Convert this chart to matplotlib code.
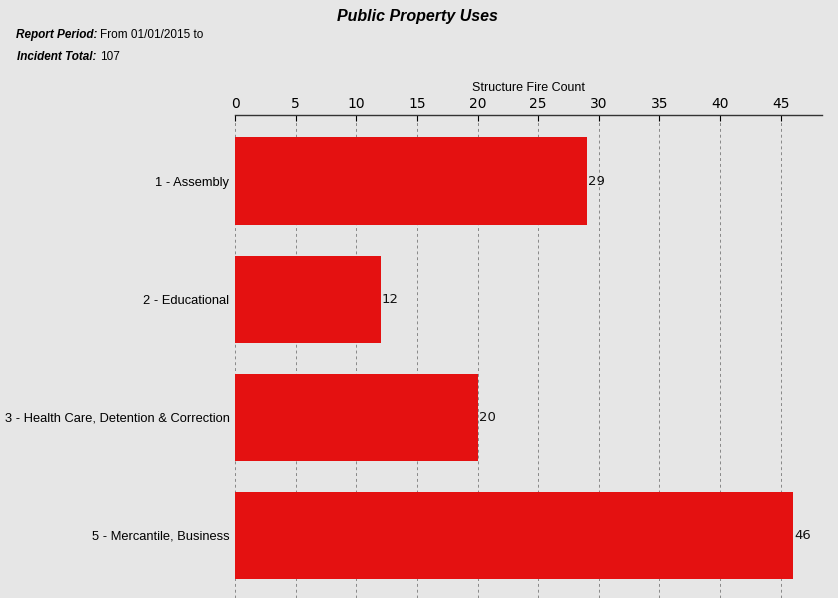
import matplotlib.pyplot as plt

categories = ['1 - Assembly', '2 - Educational',
              '3 - Health Care, Detention & Correction', '5 - Mercantile, Business']
counts = [29, 12, 20, 46]
ticks = [0, 5, 10, 15, 20, 25, 30, 35, 40, 45]

bg = '#e6e6e6'
fig = plt.figure(figsize=(8.38, 5.98), dpi=100, facecolor=bg)
ax = fig.add_axes([235 / 838, 0, 587 / 838, 483 / 598], facecolor=bg)

y = list(range(len(categories)))
ax.barh(y, counts, height=0.74, color='#e41111', zorder=3)
for yi, c in zip(y, counts):
    ax.text(c + 0.1, yi, str(c), va='center', ha='left', fontsize=9.5,
            color='#111111', family='DejaVu Sans')

ax.set_xlim(0, 48.4)
ax.set_ylim(3.53, -0.56)
ax.set_yticks(y)
ax.set_yticklabels(categories, fontsize=9.3, family='Liberation Sans')
ax.set_xticks(ticks)
ax.set_xticklabels([str(t) for t in ticks], fontsize=10, family='DejaVu Sans')
ax.xaxis.tick_top()
ax.xaxis.set_label_position('top')
ax.set_xlabel('Structure Fire Count', fontsize=9, labelpad=4, family='Liberation Sans')
ax.tick_params(axis='x', length=4, direction='in', pad=3)
ax.tick_params(axis='y', length=0, pad=4)
ax.grid(axis='x', color='#888888', linestyle=(0, (3, 3)), linewidth=0.7, zorder=0)

for side in ['left', 'right', 'bottom']:
    ax.spines[side].set_visible(False)
ax.spines['top'].set_color('#333333')
ax.spines['top'].set_linewidth(1)

fig.text(417 / 838, 1 - 16 / 598, 'Public Property Uses', ha='center', va='center',
         fontsize=11.5, fontweight='bold', style='italic', family='Liberation Sans')
fig.text(16 / 838, 1 - 35 / 598, 'Report Period:', ha='left', va='center',
         fontsize=8.5, fontweight='bold', style='italic', family='Liberation Sans')
fig.text(100 / 838, 1 - 35 / 598, 'From 01/01/2015 to', ha='left', va='center',
         fontsize=8.5, family='Liberation Sans')
fig.text(17 / 838, 1 - 57 / 598, 'Incident Total:', ha='left', va='center',
         fontsize=8.5, fontweight='bold', style='italic', family='Liberation Sans')
fig.text(100 / 838, 1 - 57 / 598, '107', ha='left', va='center',
         fontsize=8.5, family='Liberation Sans')

fig.savefig('out.png', dpi=100, facecolor=bg)
